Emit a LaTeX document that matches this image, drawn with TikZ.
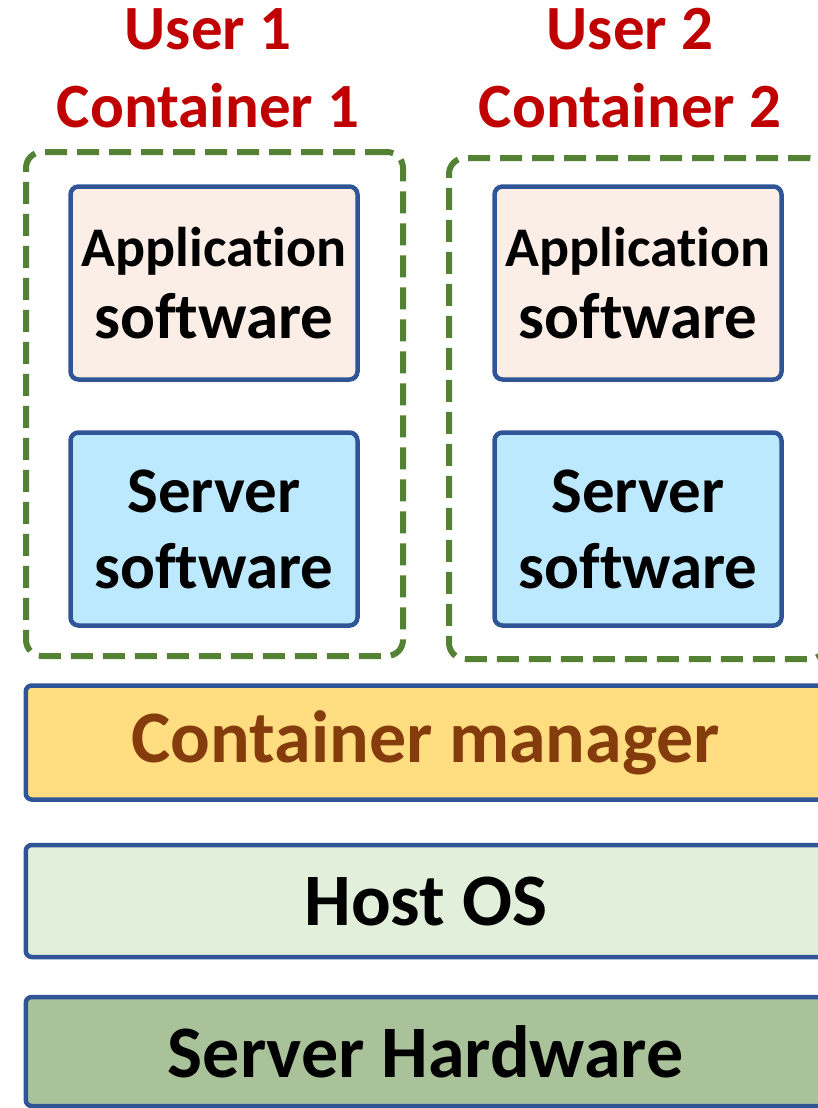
\documentclass[tikz,border=0pt]{standalone}
\usepackage{fontspec}
\setmainfont{Carlito}[Ligatures={NoCommon}]
\definecolor{tred}{HTML}{C00000}
\definecolor{cgreen}{HTML}{548235}
\definecolor{bblue}{HTML}{2F5597}
\definecolor{appfill}{HTML}{FBEEE6}
\definecolor{srvfill}{HTML}{BDE9FF}
\definecolor{cmfill}{HTML}{FFDD80}
\definecolor{cmtext}{HTML}{843C0C}
\definecolor{osfill}{HTML}{E2EFDA}
\definecolor{hwfill}{HTML}{A9C29A}
\newcommand{\appline}{{\fontsize{56}{72}\selectfont Application}}
\begin{document}
\begin{tikzpicture}[x=1pt,y=-1pt,
  title/.style={text=tred, align=center, font=\bfseries\fontsize{63}{77}\selectfont, inner sep=0pt},
  contbox/.style={draw=cgreen, line width=6pt, dash pattern=on 22pt off 10pt, rounded corners=16pt, minimum width=377pt, inner sep=0pt},
  softbox/.style={draw=bblue, line width=4.5pt, rounded corners=8pt, minimum width=287pt, minimum height=193pt, align=center, inner sep=0pt},
  appbox/.style={softbox, fill=appfill, font=\bfseries\fontsize{65}{72}\selectfont},
  srvbox/.style={softbox, fill=srvfill, font=\bfseries\fontsize{65}{76}\selectfont},
  layer/.style={draw=bblue, line width=4.5pt, rounded corners=6pt, minimum width=800pt, inner sep=0pt, font=\bfseries\fontsize{74}{88}\selectfont}
]
\useasboundingbox (0,0) rectangle (818,1108);
\clip (0,0) rectangle (818,1108);
% titles
\node[title, anchor=base] (t1) at (208,50) {User 1};
\node[title, anchor=base] (t1b) at (208,127) {Container 1};
\node[title, anchor=base] (t2) at (630,50) {User 2};
\node[title, anchor=base] (t2b) at (630,127) {Container 2};
% containers
\node[contbox, minimum height=504pt] (c1) at (214.5,404) {};
\node[contbox, minimum height=501pt] (c2) at (637.5,408.5) {};
% software boxes
\node[appbox] (a1) at (214,283) {\appline\\software};
\node[srvbox] (s1) at (214,529) {Server\\software};
\node[appbox] (a2) at (638,283) {\appline\\software};
\node[srvbox] (s2) at (638,529) {Server\\software};
% layers
\node[layer, fill=cmfill, text=cmtext, minimum height=114pt] (cm) at (425.75,742.5) {Container manager};
\node[layer, fill=osfill, minimum height=112pt] (os) at (425.75,901) {Host OS};
\node[layer, fill=hwfill, minimum height=109pt] (hw) at (425.75,1051.5) {Server Hardware};
\end{tikzpicture}
\end{document}
